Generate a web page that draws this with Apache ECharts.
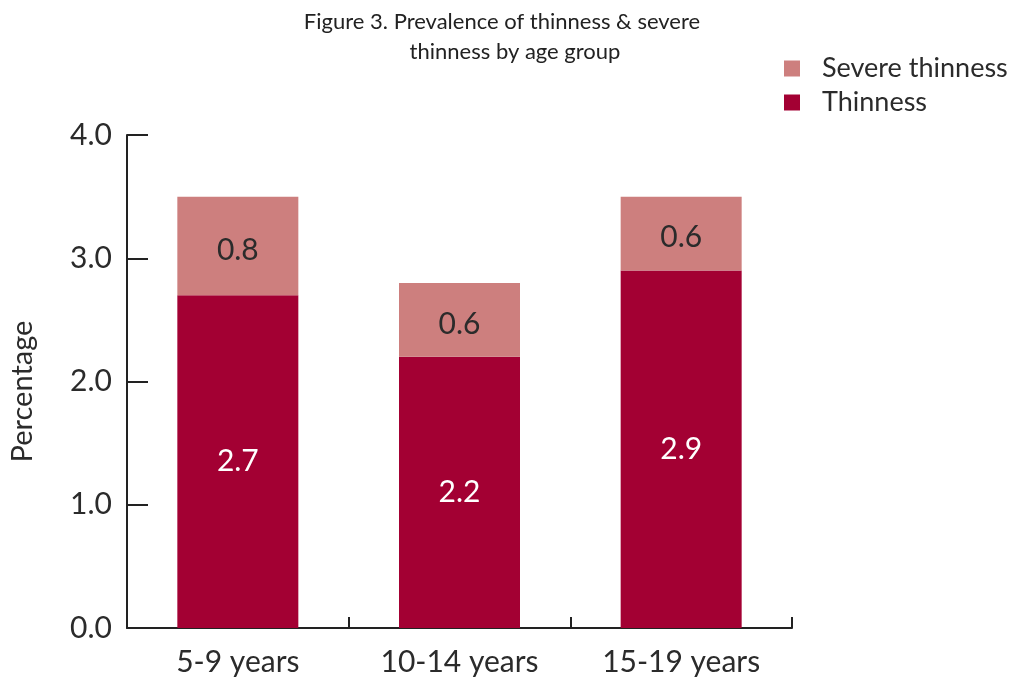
<!DOCTYPE html>
<html>
<head>
<meta charset="utf-8">
<style>
  html, body { margin: 0; padding: 0; background: #ffffff; }
  #chart { width: 1011px; height: 684px; }
</style>
<script src="https://cdn.jsdelivr.net/npm/echarts@6/dist/echarts.min.js"></script>
</head>
<body>
<div id="chart"></div>
<script>
// Age groups on the category axis
const ageGroups = ['5-9 years', '10-14 years', '15-19 years'];
// Prevalence (%) per age group, stacked: thinness at the bottom, severe thinness on top
const thinness = [2.7, 2.2, 2.9];
const severeThinness = [0.8, 0.6, 0.6];
// Y-axis ticks
const yTicks = [0, 1, 2, 3, 4];

const FONT = 'Lato, "Noto Sans", sans-serif';
const INK = '#2b2b2b';
const DARK_RED = '#a30033';
const ROSE = '#cd7f7e';

const chart = echarts.init(document.getElementById('chart'), null, { renderer: 'canvas' });

chart.setOption({
  animation: false,
  backgroundColor: '#ffffff',
  textStyle: { fontFamily: FONT, color: INK },
  title: [
    {
      text: 'Figure 3. Prevalence of thinness & severe',
      left: 497, top: 5, textAlign: 'center',
      textStyle: { fontFamily: FONT, fontSize: 22, fontWeight: 'normal', color: '#222', lineHeight: 24 }
    },
    {
      text: 'thinness by age group',
      left: 510, top: 35, textAlign: 'center',
      textStyle: { fontFamily: FONT, fontSize: 22, fontWeight: 'normal', color: '#222', lineHeight: 24 }
    }
  ],
  legend: {
    orient: 'vertical',
    left: 779, top: 50,
    itemWidth: 16, itemHeight: 16, itemGap: 7,
    icon: 'rect',
    textStyle: { fontFamily: FONT, fontSize: 27, color: INK, lineHeight: 20, padding: [0, 0, 0, 17] },
    data: ['Severe thinness', 'Thinness']
  },
  grid: { left: 127, right: 219, top: 135, bottom: 56 },
  xAxis: {
    type: 'category',
    data: ageGroups,
    boundaryGap: true,
    axisLine: { lineStyle: { color: '#222', width: 2 } },
    axisTick: { show: true, inside: true, length: 11, lineStyle: { color: '#222', width: 2 } },
    axisLabel: { fontFamily: FONT, fontSize: 30, color: INK, margin: 19 }
  },
  yAxis: {
    type: 'value',
    min: yTicks[0], max: yTicks[yTicks.length - 1], interval: 1,
    name: 'Percentage',
    nameLocation: 'middle',
    nameGap: 90,
    nameRotate: 90,
    nameTextStyle: { fontFamily: FONT, fontSize: 29, color: INK, padding: [0, 20, 0, 0] },
    axisLine: { show: true, lineStyle: { color: '#222', width: 2 } },
    axisTick: { show: true, inside: true, length: 21, lineStyle: { color: '#222', width: 2 } },
    axisLabel: { fontFamily: FONT, fontSize: 30, color: INK, margin: 15,
      formatter: v => v.toFixed(1) },
    splitLine: { show: false }
  },
  series: [
    {
      name: 'Thinness',
      type: 'bar',
      stack: 'total',
      data: thinness,
      barWidth: 121,
      itemStyle: { color: DARK_RED },
      label: { show: true, position: 'inside', fontFamily: FONT, fontSize: 30, color: '#ffffff',
        formatter: p => p.value.toFixed(1) }
    },
    {
      name: 'Severe thinness',
      type: 'bar',
      stack: 'total',
      data: severeThinness,
      barWidth: 121,
      itemStyle: { color: ROSE },
      label: { show: true, position: 'inside', offset: [0, 4], fontFamily: FONT, fontSize: 30, color: INK,
        formatter: p => p.value.toFixed(1) }
    }
  ]
});
</script>
</body>
</html>
